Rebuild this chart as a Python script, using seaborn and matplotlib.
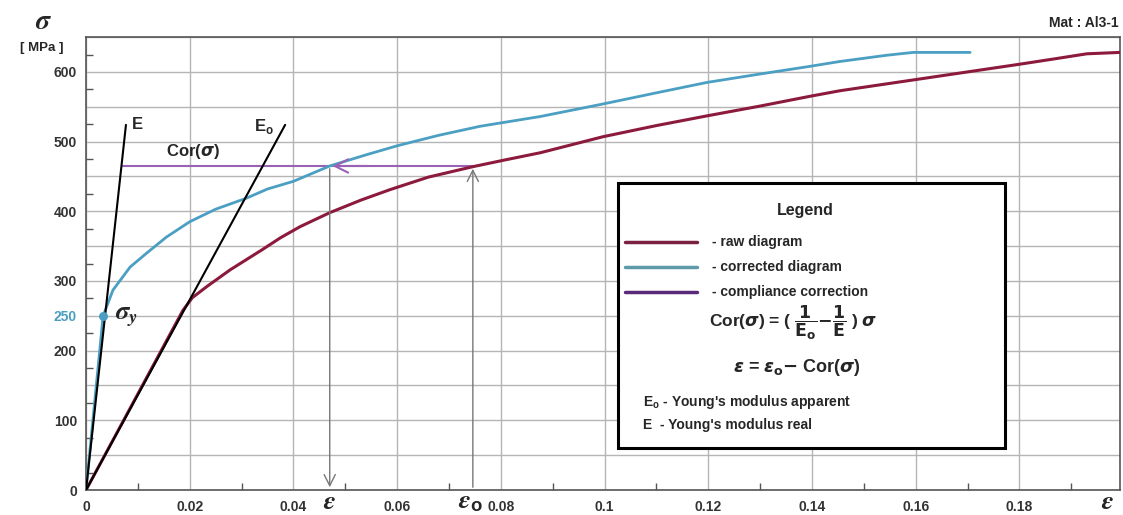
import numpy as np
import pandas as pd
import matplotlib.pyplot as plt
import matplotlib.ticker as mticker
from matplotlib.patches import Rectangle
from matplotlib.lines import Line2D
import seaborn as sns

# curva bruta (deformacion, tension MPa)
raw_eps = [0.0, 0.0187, 0.0205, 0.0233, 0.0278, 0.031, 0.034, 0.0375, 0.0413, 0.047,
           0.053, 0.0586, 0.066, 0.0746, 0.081, 0.0876, 0.0997, 0.11, 0.1198, 0.13,
           0.1396, 0.1454, 0.160, 0.17, 0.180, 0.187, 0.193, 0.1994]
raw_sig = [0, 258, 276, 292, 316, 331, 345, 362, 378, 398,
           416, 431, 449, 464, 474, 484, 507, 523, 537, 551,
           565, 573, 589, 600, 611, 619, 626, 628]

# curva corregida
cor_eps = [0.0, 0.0033, 0.0052, 0.0085, 0.0117, 0.0155, 0.020, 0.025, 0.031, 0.035,
           0.040, 0.047, 0.054, 0.060, 0.068, 0.076, 0.0876, 0.0997, 0.11, 0.1198,
           0.13, 0.1396, 0.1454, 0.1545, 0.1595, 0.1705]
cor_sig = [0, 250, 287, 320, 340, 363, 385, 403, 419, 432,
           443, 465, 481, 494, 509, 522, 536, 554, 570, 585,
           597, 608, 615, 624, 628, 628]

# rectas de modulo
E_eps = [0.0, 0.0077]
E_sig = [0, 524]
Eo_eps = [0.0, 0.0384]
Eo_sig = [0, 524]

# puntos de la correccion
sig_cor = 465
eps_real = 0.047
eps_app = 0.0746
eps_start = 0.0069
sig_y = 250
eps_y = 0.0033

x_ticks = [0, 0.02, 0.04, 0.06, 0.08, 0.1, 0.12, 0.14, 0.16, 0.18]
x_labels = ['0', '0.02', '0.04', '0.06', '0.08', '0.1', '0.12', '0.14', '0.16', '0.18']

raw_df = pd.DataFrame({'eps': raw_eps, 'sig': raw_sig})
cor_df = pd.DataFrame({'eps': cor_eps, 'sig': cor_sig})

sns.set_theme(style='whitegrid')
plt.rcParams['font.family'] = ['Liberation Sans', 'DejaVu Sans']
plt.rcParams['font.weight'] = 'bold'

fig = plt.figure(figsize=(11.23, 5.15), dpi=100)
ax = fig.add_axes([0.0766, 0.0485, 0.9207, 0.8795])

RED = '#8c1a3c'
CYAN = '#4a9fc2'
PURPLE = '#9a62b4'
GRAY = '#777777'

# modulos
ax.plot(E_eps, E_sig, color='black', lw=1.5, zorder=4)
ax.plot(Eo_eps, Eo_sig, color='black', lw=1.5, zorder=4)

sns.lineplot(data=raw_df, x='eps', y='sig', sort=False, color=RED, lw=2.2, ax=ax, zorder=3)
sns.lineplot(data=cor_df, x='eps', y='sig', sort=False, color=CYAN, lw=2.0, ax=ax, zorder=3)

# linea de correccion y flechas
ax.plot([eps_start, eps_app], [sig_cor, sig_cor], color=PURPLE, lw=1.5, zorder=2)
ax.annotate('', xy=(eps_real, sig_cor), xytext=(eps_real + 0.008, sig_cor),
            arrowprops=dict(arrowstyle='->', color=PURPLE, lw=1.5, mutation_scale=24))
ax.annotate('', xy=(eps_app, sig_cor), xytext=(eps_app, 0),
            arrowprops=dict(arrowstyle='->', color=GRAY, lw=1.0, mutation_scale=20))
ax.annotate('', xy=(eps_real, 0), xytext=(eps_real, sig_cor),
            arrowprops=dict(arrowstyle='->', color=GRAY, lw=1.0, mutation_scale=20))

ax.scatter([eps_y], [sig_y], s=30, color=CYAN, zorder=5)

# etiquetas en el grafico
ax.text(0.0088, 525, 'E', fontsize=12, fontweight='bold', va='center', ha='left')
ax.text(0.0363, 521, r'E$_\mathregular{o}$', fontsize=12, fontweight='bold', va='center', ha='right')
ax.text(0.0207, 486, r'Cor($\sigma$)', fontsize=12, fontweight='bold', va='center', ha='center')
ax.text(0.0056, 247, r'$\sigma_y$', fontsize=19, va='center', ha='left', math_fontfamily='stix')

# ejes
ax.set_xlim(0, 0.1994)
ax.set_ylim(0, 650)
ax.set_xlabel('')
ax.set_ylabel('')

ax.set_xticks(x_ticks)
ax.set_xticklabels(x_labels)
ax.xaxis.set_minor_locator(mticker.MultipleLocator(0.01))

y_major = np.arange(0, 651, 50)
ax.set_yticks(y_major)
ax.set_yticklabels([str(v) if (v % 100 == 0 or v == 250) else '' for v in y_major])
ax.yaxis.set_minor_locator(mticker.MultipleLocator(25))
for lab in ax.get_yticklabels():
    if lab.get_text() == '250':
        lab.set_color(CYAN)
    else:
        lab.set_color('#333333')
for lab in ax.get_xticklabels():
    lab.set_color('#333333')

ax.tick_params(axis='both', which='major', labelsize=10, length=6, direction='inout', color='#555555')
ax.tick_params(axis='both', which='minor', length=5, direction='in', color='#555555',
               left=True, bottom=True)
ax.tick_params(axis='x', pad=4)
ax.grid(True, which='major', color='#b5b5b5', lw=1.0)
ax.grid(False, which='minor')
for s in ax.spines.values():
    s.set_visible(True)
    s.set_color('#555555')
    s.set_linewidth(1.2)

# simbolos de deformacion en el eje x
tr = ax.get_xaxis_transform()
for xx, sym in [(eps_real, r'$\varepsilon$'), (eps_app - 0.0005, r'$\varepsilon_\mathregular{o}$'),
                (0.197, r'$\varepsilon$')]:
    ax.text(xx, -0.0415, sym, transform=tr, fontsize=19, ha='center', va='baseline',
            math_fontfamily='stix')

# textos de la figura
fig.text(43 / 1123, 1 - 22 / 515, r'$\sigma$', fontsize=20, ha='center', va='center', math_fontfamily='stix')
fig.text(42 / 1123, 1 - 48 / 515, '[ MPa ]', fontsize=9.5, fontweight='bold', ha='center', va='center')
fig.text(1119 / 1123, 1 - 23 / 515, 'Mat : Al3-1', fontsize=10, fontweight='bold', ha='right', va='center')

# leyenda dibujada a mano
box = Rectangle((0.5145, 0.0927), 0.3743, 0.585, transform=ax.transAxes, facecolor='white',
                edgecolor='black', lw=2.2, zorder=10)
ax.add_patch(box)
ax.text(0.6954, 0.618, 'Legend', transform=ax.transAxes, fontsize=11.5, fontweight='bold',
        ha='center', va='center', zorder=11)
leg_items = [(0.5475, '#7a2040', '- raw diagram'),
             (0.4923, '#5f9aab', '- corrected diagram'),
             (0.4371, '#5a2a7a', '- compliance correction')]
for yy, col, txt in leg_items:
    ax.add_line(Line2D([0.5213, 0.591], [yy, yy], transform=ax.transAxes, color=col, lw=2.5, zorder=11))
    ax.text(0.6054, yy, txt, transform=ax.transAxes, fontsize=10, fontweight='bold',
            ha='left', va='center', zorder=11)
ax.text(0.684, 0.3687, r'Cor($\sigma$) = ( $\dfrac{1}{\mathrm{E_o}}$$-$$\dfrac{1}{\mathrm{E}}$ ) $\sigma$',
        transform=ax.transAxes, fontsize=12.5, ha='center', va='center', zorder=11)
ax.text(0.688, 0.2715, r'$\varepsilon$ = $\varepsilon_\mathrm{o}$$-$ Cor($\sigma$)',
        transform=ax.transAxes, fontsize=13, ha='center', va='center', zorder=11)
ax.text(0.5387, 0.194, r"E$_\mathregular{o}$ - Young's modulus apparent", transform=ax.transAxes,
        fontsize=10, fontweight='bold', ha='left', va='center', zorder=11)
ax.text(0.5387, 0.1435, "E  - Young's modulus real", transform=ax.transAxes,
        fontsize=10, fontweight='bold', ha='left', va='center', zorder=11)

fig.savefig('out.png', dpi=100)
